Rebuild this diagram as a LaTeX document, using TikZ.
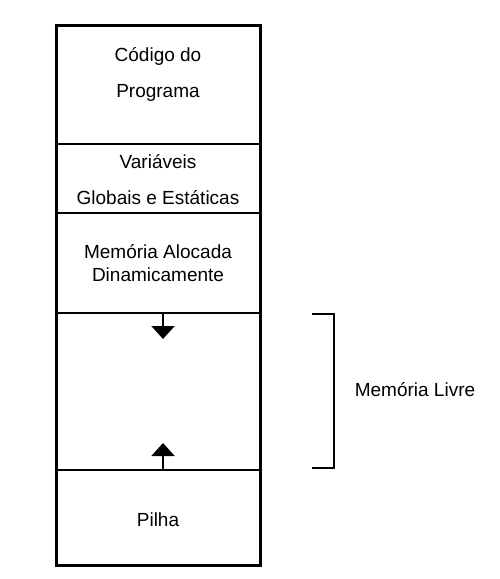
\documentclass[tikz,border=0pt]{standalone}
\usepackage{fontspec}
\setmainfont{Liberation Sans}
\usetikzlibrary{arrows.meta}
\begin{document}
\begin{tikzpicture}[x=1pt,y=-1pt,
  outer/.style={line width=3pt},
  divider/.style={line width=2.6pt},
  lbl/.style={font=\fontsize{19}{22}\selectfont, inner sep=0pt, anchor=base},
  growarrow/.style={line width=2pt,-{Triangle[width=23pt,length=13pt]}},
  bracket/.style={line width=2pt}]
\useasboundingbox (0,0) rectangle (499,579);
% segments
\coordinate (tl) at (56,25);
\coordinate (br) at (260,565);
\draw[outer] (tl) rectangle (br);
\draw[divider] (56,144) -- (260,144);
\draw[divider] (56,213) -- (260,213);
\draw[divider] (56,313) -- (260,313);
\draw[divider] (56,470) -- (260,470);
% texts
\node[lbl] (c1) at (158,61) {Código do};
\node[lbl] (c2) at (158,97) {Programa};
\node[lbl] (v1) at (158,168) {Variáveis};
\node[lbl] (v2) at (158,204) {Globais e Estáticas};
\node[lbl] (m1) at (158,258) {Memória Alocada};
\node[lbl] (m2) at (158,281) {Dinamicamente};
\node[lbl] (p) at (158,526) {Pilha};
% arrows
\coordinate (heapbase) at (163,313);
\coordinate (heaptip) at (163,339);
\coordinate (stackbase) at (163,470);
\coordinate (stacktip) at (163,443);
\draw[growarrow] (heapbase) -- (heaptip);
\draw[growarrow] (stackbase) -- (stacktip);
% bracket
\coordinate (b1) at (312,314);
\coordinate (b2) at (334,314);
\coordinate (b3) at (334,468);
\coordinate (b4) at (312,468);
\draw[bracket] (b1) -- (b2) -- (b3) -- (b4);
\node[lbl] (livre) at (415,396) {Memória Livre};
\end{tikzpicture}
\end{document}
